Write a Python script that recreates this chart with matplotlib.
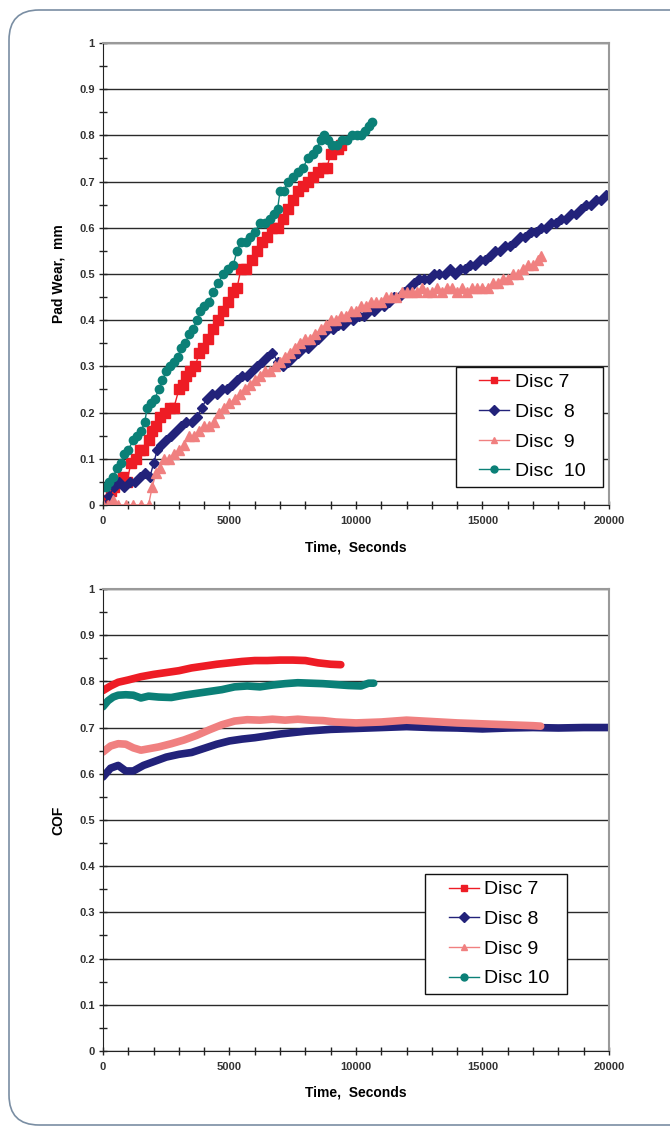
import matplotlib
matplotlib.use("Agg")
import matplotlib.pyplot as plt
from matplotlib.lines import Line2D
from matplotlib.legend_handler import HandlerLine2D
from matplotlib.patches import FancyBboxPatch
from matplotlib.ticker import MultipleLocator

plt.rcParams['font.family'] = ['Liberation Sans', 'DejaVu Sans']

# ---- pad wear (top) ----
t7 = [0, 150, 300, 450, 600, 800, 950, 1100, 1300, 1450, 1600, 1800, 1950, 2100, 2250,
      2450, 2650, 2800, 3000, 3150, 3300, 3450, 3650, 3800, 3950, 4150, 4350, 4550, 4750, 4950,
      5150, 5300, 5450, 5650, 5900, 6100, 6300, 6500, 6700, 6900, 7100, 7300, 7500, 7700, 7900,
      8100, 8300, 8500, 8700, 8850, 9000, 9150, 9300, 9400]
w7 = [0.00, 0.01, 0.03, 0.04, 0.05, 0.06, 0.05, 0.09, 0.10, 0.12, 0.12, 0.14, 0.16, 0.17, 0.19,
      0.20, 0.21, 0.21, 0.25, 0.26, 0.28, 0.29, 0.30, 0.33, 0.34, 0.36, 0.38, 0.40, 0.42, 0.44,
      0.46, 0.47, 0.51, 0.51, 0.53, 0.55, 0.57, 0.58, 0.60, 0.60, 0.62, 0.64, 0.66, 0.68, 0.69,
      0.70, 0.71, 0.72, 0.73, 0.73, 0.76, 0.77, 0.77, 0.78]

t8 = [0, 250, 450, 650, 850, 1050, 1250, 1450, 1650, 1850, 2000, 2150, 2300, 2500, 2700,
      2900, 3100, 3300, 3500, 3700, 3900, 4100, 4300, 4500, 4700, 4900, 5100, 5300, 5500, 5700,
      5900, 6100, 6300, 6500, 6700, 6900, 7100, 7300, 7500, 7700, 7900, 8100, 8300, 8500, 8700,
      8900, 9100, 9300, 9500, 9700, 9900, 10100, 10300, 10500, 10700, 10900, 11100, 11300, 11500, 11700,
      11900, 12100, 12300, 12500, 12700, 12900, 13100, 13300, 13500, 13700, 13900, 14100, 14300, 14500, 14700,
      14900, 15100, 15300, 15500, 15700, 15900, 16100, 16300, 16500, 16700, 16900, 17100, 17300, 17500, 17700,
      17900, 18100, 18300, 18500, 18700, 18900, 19100, 19300, 19500, 19700, 19900]
w8 = [0.00, 0.02, 0.04, 0.05, 0.04, 0.05, 0.05, 0.06, 0.07, 0.06, 0.09, 0.12, 0.13, 0.14, 0.15,
      0.16, 0.17, 0.18, 0.18, 0.19, 0.21, 0.23, 0.24, 0.24, 0.25, 0.25, 0.26, 0.27, 0.28, 0.28,
      0.29, 0.30, 0.31, 0.32, 0.33, 0.31, 0.30, 0.31, 0.32, 0.33, 0.34, 0.34, 0.35, 0.36, 0.37,
      0.38, 0.38, 0.39, 0.39, 0.40, 0.40, 0.41, 0.41, 0.42, 0.42, 0.43, 0.43, 0.44, 0.45, 0.45,
      0.46, 0.47, 0.48, 0.49, 0.49, 0.49, 0.50, 0.50, 0.50, 0.51, 0.50, 0.51, 0.51, 0.52, 0.52,
      0.53, 0.53, 0.54, 0.55, 0.55, 0.56, 0.56, 0.57, 0.58, 0.58, 0.59, 0.59, 0.60, 0.60, 0.61,
      0.61, 0.62, 0.62, 0.63, 0.63, 0.64, 0.65, 0.65, 0.66, 0.66, 0.67]

t9 = [0, 200, 400, 600, 900, 1200, 1500, 1800, 1950, 2100, 2250, 2400, 2600, 2800, 3000,
      3200, 3400, 3600, 3800, 4000, 4200, 4400, 4600, 4800, 5000, 5200, 5400, 5600, 5800, 6000,
      6200, 6400, 6600, 6800, 7000, 7200, 7400, 7600, 7800, 8000, 8200, 8400, 8600, 8800, 9000,
      9200, 9400, 9600, 9800, 10000, 10200, 10400, 10600, 10800, 11000, 11200, 11400, 11600, 11800, 12000,
      12200, 12400, 12600, 12800, 13000, 13200, 13400, 13600, 13800, 14000, 14200, 14400, 14600, 14800, 15000,
      15200, 15400, 15600, 15800, 16000, 16200, 16400, 16600, 16800, 17000, 17200, 17300]
w9 = [0.00, 0.00, 0.01, 0.00, 0.00, 0.00, 0.00, 0.00, 0.04, 0.07, 0.08, 0.10, 0.10, 0.11, 0.12,
      0.13, 0.15, 0.15, 0.16, 0.17, 0.17, 0.18, 0.20, 0.21, 0.22, 0.23, 0.24, 0.25, 0.26, 0.27,
      0.28, 0.29, 0.29, 0.30, 0.31, 0.32, 0.33, 0.34, 0.35, 0.36, 0.36, 0.37, 0.38, 0.39, 0.40,
      0.40, 0.41, 0.41, 0.42, 0.42, 0.43, 0.43, 0.44, 0.44, 0.44, 0.45, 0.45, 0.45, 0.46, 0.46,
      0.46, 0.46, 0.47, 0.46, 0.46, 0.47, 0.46, 0.47, 0.47, 0.46, 0.47, 0.46, 0.47, 0.47, 0.47,
      0.47, 0.48, 0.48, 0.49, 0.49, 0.50, 0.50, 0.51, 0.52, 0.52, 0.53, 0.54]

t10 = [0, 100, 250, 400, 550, 700, 850, 1000, 1200, 1350, 1500, 1650, 1750, 1900, 2050,
       2200, 2350, 2500, 2650, 2800, 2950, 3100, 3250, 3400, 3550, 3700, 3850, 4000, 4200, 4350,
       4550, 4750, 4950, 5150, 5300, 5450, 5650, 5800, 6000, 6200, 6400, 6600, 6750, 6900, 7000,
       7150, 7300, 7500, 7700, 7900, 8100, 8300, 8450, 8600, 8750, 8900, 9050, 9250, 9450, 9650,
       9850, 10050, 10200, 10350, 10500, 10650]
w10 = [0.04, 0.04, 0.05, 0.06, 0.08, 0.09, 0.11, 0.12, 0.14, 0.15, 0.16, 0.18, 0.21, 0.22, 0.23,
       0.25, 0.27, 0.29, 0.30, 0.31, 0.32, 0.34, 0.35, 0.37, 0.38, 0.40, 0.42, 0.43, 0.44, 0.46,
       0.48, 0.50, 0.51, 0.52, 0.55, 0.57, 0.57, 0.58, 0.59, 0.61, 0.61, 0.62, 0.63, 0.64, 0.68,
       0.68, 0.70, 0.71, 0.72, 0.73, 0.75, 0.76, 0.77, 0.79, 0.80, 0.79, 0.78, 0.78, 0.79, 0.79,
       0.80, 0.80, 0.80, 0.81, 0.82, 0.83]

# ---- COF (bottom) ----
ct7 = [0, 300, 600, 1000, 1500, 2000, 2500, 3000, 3500, 4000, 4500, 5000, 5500, 6000, 6500,
       7000, 7500, 8000, 8500, 9000, 9400]
c7 = [0.780, 0.790, 0.798, 0.803, 0.810, 0.815, 0.819, 0.823, 0.829, 0.833, 0.837, 0.840, 0.843,
      0.845, 0.845, 0.846, 0.846, 0.845, 0.840, 0.837, 0.836]

ct8 = [0, 300, 600, 900, 1200, 1600, 2000, 2500, 3000, 3500, 4000, 4500, 5000, 5500, 6000,
       6500, 7000, 7500, 8000, 8500, 9000, 9500, 10000, 11000, 12000, 13000, 14000, 15000,
       16000, 17000, 18000, 19000, 20000]
c8 = [0.593, 0.612, 0.618, 0.606, 0.606, 0.618, 0.626, 0.636, 0.642, 0.646, 0.655, 0.664, 0.671,
      0.675, 0.678, 0.682, 0.686, 0.689, 0.692, 0.694, 0.696, 0.697, 0.698, 0.700, 0.702, 0.700,
      0.699, 0.697, 0.699, 0.700, 0.699, 0.700, 0.700]

ct9 = [0, 300, 600, 900, 1200, 1500, 1800, 2200, 2700, 3200, 3700, 4200, 4700, 5200, 5700,
       6200, 6700, 7200, 7700, 8200, 8700, 9200, 10000, 11000, 12000, 13000, 14000, 15000,
       16000, 17000, 17300]
c9 = [0.647, 0.660, 0.665, 0.664, 0.656, 0.651, 0.654, 0.658, 0.665, 0.673, 0.683, 0.695, 0.706,
      0.714, 0.717, 0.716, 0.718, 0.716, 0.718, 0.716, 0.715, 0.712, 0.710, 0.712, 0.716, 0.713,
      0.710, 0.708, 0.706, 0.704, 0.703]

ct10 = [0, 200, 400, 600, 900, 1200, 1500, 1800, 2200, 2700, 3200, 3700, 4200, 4700, 5200,
        5700, 6200, 6700, 7200, 7700, 8200, 8700, 9200, 9700, 10200, 10500, 10700]
c10 = [0.745, 0.758, 0.766, 0.770, 0.771, 0.770, 0.764, 0.768, 0.766, 0.765, 0.770, 0.774, 0.778,
       0.782, 0.788, 0.790, 0.788, 0.792, 0.795, 0.797, 0.796, 0.795, 0.793, 0.791, 0.790, 0.796, 0.796]

colors = ['#ee1c25', '#22227a', '#f08080', '#0b8077']
markers = ['s', 'D', '^', 'o']
msizes = [6.5, 5.5, 7, 6]
top_labels = ['Disc 7', 'Disc  8', 'Disc  9', 'Disc  10']
bot_labels = ['Disc 7', 'Disc 8', 'Disc 9', 'Disc 10']

fig = plt.figure(figsize=(6.7, 11.28), dpi=100)

# rounded panel border (drawn behind the axes)
border = FancyBboxPatch((9, 3), 700, 1115, boxstyle="round,pad=0,rounding_size=30",
                        transform=None, facecolor='none', edgecolor='#7a8ea3', lw=1.2,
                        zorder=-5)
fig.patches.append(border)

ax1 = fig.add_axes([0.1537, 0.5523, 0.7552, 0.4096])
ax2 = fig.add_axes([0.1537, 0.0683, 0.7552, 0.4096])


def style(ax, ylabel):
    ax.set_xlim(0, 20000)
    ax.set_ylim(0, 1)
    ax.xaxis.set_major_locator(MultipleLocator(5000))
    ax.xaxis.set_minor_locator(MultipleLocator(1000))
    ax.yaxis.set_major_locator(MultipleLocator(0.1))
    ax.yaxis.set_minor_locator(MultipleLocator(0.05))
    ax.yaxis.set_major_formatter(plt.FuncFormatter(lambda v, p: '%g' % round(v, 2)))
    ax.grid(axis='y', color='#2a2a2a', lw=1)
    ax.set_axisbelow(True)
    ax.tick_params(which='both', direction='inout', length=6, width=1, color='#222222',
                   labelsize=8, labelcolor='#333333')
    ax.tick_params(axis='x', pad=5)
    ax.tick_params(axis='y', pad=3)
    for lab in ax.get_xticklabels() + ax.get_yticklabels():
        lab.set_fontweight('bold')
    ax.spines['left'].set_color('#222222')
    ax.spines['bottom'].set_color('#222222')
    ax.spines['right'].set_color('#9a9a9a')
    ax.spines['top'].set_color('#9a9a9a')
    ax.spines['right'].set_linewidth(1.5)
    ax.spines['top'].set_linewidth(1.5)
    ax.set_xlabel('Time,  Seconds', fontsize=10, fontweight='bold', labelpad=10)
    ax.set_ylabel(ylabel, fontsize=10, fontweight='bold', labelpad=10)


top_data = [(t7, w7), (t8, w8), (t9, w9), (t10, w10)]
for (t, w), c, m, ms, lab in zip(top_data, colors, markers, msizes, top_labels):
    ax1.plot(t, w, color=c, marker=m, markersize=ms, lw=1, label=lab)
style(ax1, 'Pad Wear,  mm')

bot_data = [(ct7, c7), (ct8, c8), (ct9, c9), (ct10, c10)]
for (t, cc), c in zip(bot_data, colors):
    ax2.plot(t, cc, color=c, lw=5.5, solid_capstyle='round')
style(ax2, 'COF')

for ax, labels, anchor in [(ax1, top_labels, (0.988, 0.039)), (ax2, bot_labels, (0.917, 0.123))]:
    handles = [Line2D([], [], color=c, marker=m, markersize=5, lw=1)
               for c, m in zip(colors, markers)]
    leg = ax.legend(handles, [lab + '  ' for lab in labels], loc='lower right',
                    bbox_to_anchor=anchor,
                    handler_map={Line2D: HandlerLine2D(xpad=0.85)},
                    fontsize=14, frameon=True, fancybox=False, edgecolor='#111111',
                    framealpha=1, handlelength=2.4, handletextpad=0.27, labelspacing=0.62,
                    borderpad=0.35, borderaxespad=0)
    leg.get_frame().set_linewidth(1)

fig.savefig('out.png', dpi=100)
